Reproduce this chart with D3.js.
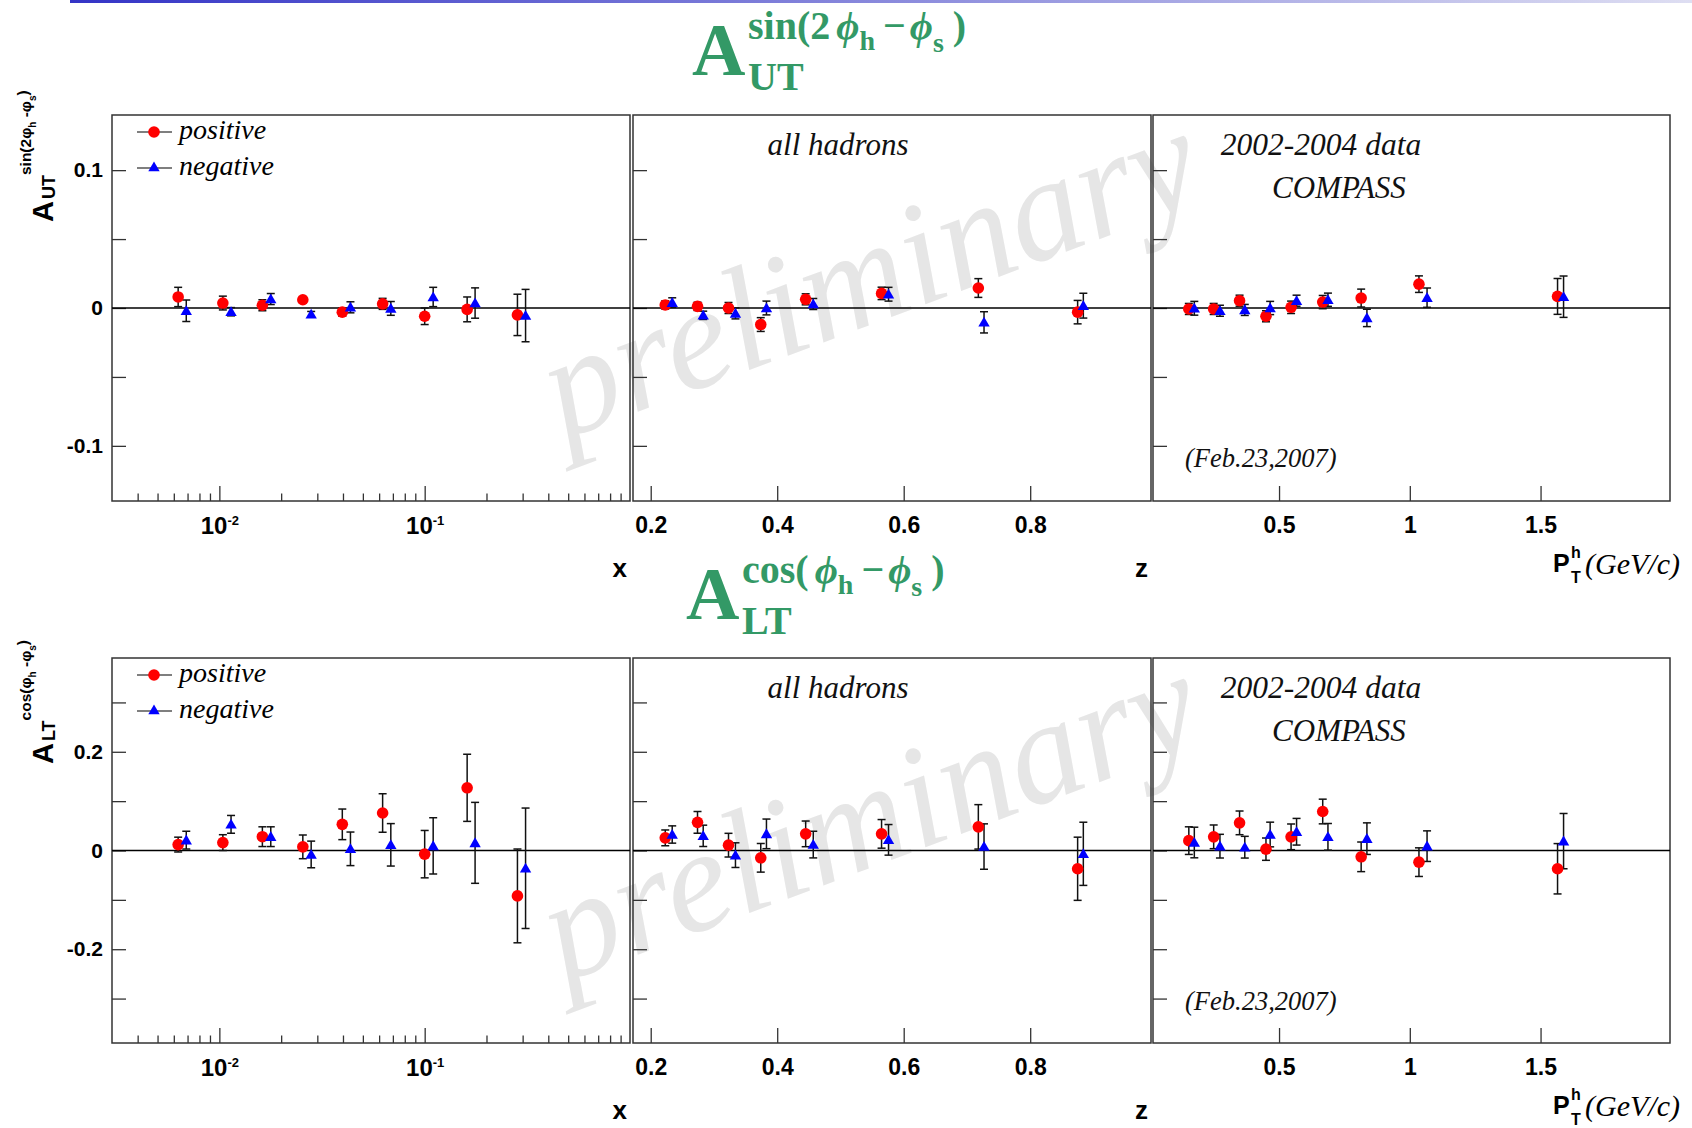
<!DOCTYPE html>
<html>
<head>
<meta charset="utf-8">
<script src="https://cdn.jsdelivr.net/npm/d3@7"></script>
<style>
body { margin: 0; background: #fff; }
svg { display: block; }
</style>
</head>
<body>
<svg id="chart"></svg>
<script>
// bin centres (negative hadrons drawn slightly shifted)
const xBinsPos = [0.0063, 0.0104, 0.0162, 0.0255, 0.0397, 0.0624, 0.100, 0.161, 0.283]
const xBinsNeg = [0.0069, 0.0114, 0.0178, 0.0280, 0.0435, 0.0684, 0.110, 0.176, 0.310]
const zBinsPos = [0.223, 0.274, 0.323, 0.374, 0.445, 0.565, 0.718, 0.875]
const zBinsNeg = [0.234, 0.283, 0.334, 0.383, 0.457, 0.576, 0.727, 0.884]
const ptBinsPos = [0.155, 0.250, 0.349, 0.450, 0.546, 0.667, 0.814, 1.035, 1.565]
const ptBinsNeg = [0.176, 0.274, 0.369, 0.466, 0.567, 0.687, 0.836, 1.066, 1.588]

// A_UT sin(2phi_h - phi_s)
const utXPos = [0.008, 0.0036, 0.002, 0.006, -0.003, 0.003, -0.006, -0.001, -0.005]
const utXPosErr = [0.007, 0.005, 0.004, 0.002, 0.003, 0.004, 0.006, 0.009, 0.015]
const utXNeg = [-0.002, -0.0027, 0.0065, -0.0045, 0.0005, -0.0003, 0.008, 0.0036, -0.0055]
const utXNegErr = [0.0078, 0.003, 0.004, 0.002, 0.004, 0.005, 0.007, 0.011, 0.019]
const utZPos = [0.0022, 0.0012, 0.0, -0.012, 0.0063, 0.0106, 0.0145, -0.003]
const utZPosErr = [0.003, 0.003, 0.004, 0.005, 0.004, 0.0045, 0.0068, 0.0085]
const utZNeg = [0.0039, -0.0053, -0.0039, 0.0, 0.0029, 0.010, -0.0104, 0.0017]
const utZNegErr = [0.0035, 0.003, 0.004, 0.005, 0.004, 0.005, 0.0077, 0.009]
const utPtPos = [-0.0007, -0.0007, 0.0053, -0.006, 0.0005, 0.0043, 0.0072, 0.0173, 0.0084]
const utPtPosErr = [0.004, 0.004, 0.004, 0.004, 0.0045, 0.0048, 0.0065, 0.006, 0.013]
const utPtNeg = [-0.0002, -0.002, -0.0014, 0.0, 0.0053, 0.006, -0.0072, 0.0075, 0.0082]
const utPtNegErr = [0.005, 0.004, 0.004, 0.0048, 0.004, 0.0048, 0.0063, 0.007, 0.015]

// A_LT cos(phi_h - phi_s)
const ltXPos = [0.012, 0.016, 0.028, 0.0074, 0.053, 0.076, -0.0074, 0.127, -0.092]
const ltXPosErr = [0.015, 0.016, 0.02, 0.024, 0.031, 0.039, 0.048, 0.068, 0.095]
const ltXNeg = [0.021, 0.053, 0.028, -0.008, 0.0034, 0.0115, 0.0094, 0.0155, -0.036]
const ltXNegErr = [0.018, 0.018, 0.02, 0.027, 0.034, 0.043, 0.057, 0.082, 0.122]
const ltZPos = [0.0256, 0.057, 0.0108, -0.0148, 0.0337, 0.0337, 0.0479, -0.037]
const ltZPosErr = [0.016, 0.022, 0.024, 0.029, 0.026, 0.029, 0.045, 0.064]
const ltZNeg = [0.0324, 0.0297, -0.0094, 0.0337, 0.012, 0.0216, 0.008, -0.0067]
const ltZNegErr = [0.0175, 0.0216, 0.025, 0.030, 0.027, 0.031, 0.046, 0.064]
const ltPtPos = [0.020, 0.0277, 0.056, 0.0027, 0.0277, 0.079, -0.0128, -0.0236, -0.037]
const ltPtPosErr = [0.028, 0.024, 0.024, 0.0226, 0.026, 0.025, 0.03, 0.029, 0.051]
const ltPtNeg = [0.0162, 0.0088, 0.0067, 0.0324, 0.038, 0.0277, 0.024, 0.0088, 0.019]
const ltPtNegErr = [0.031, 0.024, 0.022, 0.025, 0.027, 0.027, 0.032, 0.031, 0.056]

// ticks
const utTicks = [-0.1, -0.05, 0, 0.05, 0.1]
const utLabels = [-0.1, 0, 0.1]
const ltTicks = [-0.3, -0.2, -0.1, 0, 0.1, 0.2, 0.3]
const ltLabels = [-0.2, 0, 0.2]
const xMajorTicks = [0.01, 0.1]
const zTicks = [0.2, 0.4, 0.6, 0.8]
const ptTicks = [0.5, 1, 1.5]

const W = 1692, H = 1128
const sans = "'Liberation Sans', Arial, sans-serif"
const serif = "'Liberation Serif', 'Times New Roman', serif"
const green = '#339966'

const svg = d3.select('#chart').attr('width', W).attr('height', H)

// thin coloured bar at the very top
const grad = svg.append('defs').append('linearGradient').attr('id', 'topbar')
grad.append('stop').attr('offset', '0%').attr('stop-color', '#3434c6')
grad.append('stop').attr('offset', '100%').attr('stop-color', '#dedef2')
svg.append('rect').attr('x', 70).attr('y', 0).attr('width', W - 70).attr('height', 3)
   .attr('fill', 'url(#topbar)')

const colX = [[112, 630], [633, 1151], [1153, 1670]]
const rows = [
    {top: 115, bottom: 501, domain: [-0.14, 0.14], ticks: utTicks, labels: utLabels,
     vals: [[utXPos, utXPosErr, utXNeg, utXNegErr],
            [utZPos, utZPosErr, utZNeg, utZNegErr],
            [utPtPos, utPtPosErr, utPtNeg, utPtNegErr]]},
    {top: 658, bottom: 1043, domain: [-0.39, 0.39], ticks: ltTicks, labels: ltLabels,
     vals: [[ltXPos, ltXPosErr, ltXNeg, ltXNegErr],
            [ltZPos, ltZPosErr, ltZNeg, ltZNegErr],
            [ltPtPos, ltPtPosErr, ltPtNeg, ltPtNegErr]]}
]
const cols = [
    {make: () => d3.scaleLog().domain([0.003, 1]), pos: xBinsPos, neg: xBinsNeg},
    {make: () => d3.scaleLinear().domain([0.172, 0.991]), pos: zBinsPos, neg: zBinsNeg, ticks: zTicks, fmt: d3.format('.1f')},
    {make: () => d3.scaleLinear().domain([0.018, 1.995]), pos: ptBinsPos, neg: ptBinsNeg, ticks: ptTicks, fmt: v => String(v)}
]

// watermark behind everything
rows.forEach(row => {
    svg.append('text')
       .attr('transform', `translate(886,${row.top + 204}) rotate(-20.5)`)
       .attr('text-anchor', 'middle')
       .attr('font-family', serif).attr('font-style', 'italic')
       .attr('font-size', 147).attr('fill', '#e6e6e6')
       .text('preliminary')
})

const styleTicks = g => {
    g.select('.domain').remove()
    g.attr('font-size', null).attr('font-family', null)
    g.selectAll('.tick line').attr('stroke', '#333').attr('stroke-width', 1.3)
    g.selectAll('.tick text').attr('fill', '#000').attr('font-family', sans).attr('font-weight', 'bold')
}

rows.forEach((row, r) => {
    const y = d3.scaleLinear().domain(row.domain).range([row.bottom, row.top])
    cols.forEach((col, c) => {
        const [x0, x1] = colX[c]
        const x = col.make().range([x0, x1])
        const panel = svg.append('g')

        // y axis ticks (labels only on the first panel)
        const isLab = v => row.labels.some(l => Math.abs(l - v) < 1e-9)
        panel.append('g').attr('transform', `translate(${x0},0)`)
             .call(d3.axisLeft(y).tickValues(row.ticks).tickSizeInner(-14).tickSizeOuter(0).tickPadding(9)
                   .tickFormat(v => c === 0 && isLab(v) ? String(v) : ''))
             .call(styleTicks)
             .selectAll('.tick text').attr('font-size', 21)

        // x axis ticks
        if (c === 0) {
            const minor = x.ticks().filter(v => v > 0.0031 && v < 0.99 && !xMajorTicks.some(m => Math.abs(m - v) < 1e-9))
            panel.append('g').attr('transform', `translate(0,${row.bottom})`)
                 .call(d3.axisBottom(x).tickValues(minor).tickSizeInner(-7.5).tickSizeOuter(0).tickFormat(''))
                 .call(styleTicks)
            const gm = panel.append('g').attr('transform', `translate(0,${row.bottom})`)
                 .call(d3.axisBottom(x).tickValues(xMajorTicks).tickSizeInner(-15).tickSizeOuter(0).tickPadding(16).tickFormat(''))
                 .call(styleTicks)
            gm.selectAll('.tick text').attr('font-size', 24).each(function(d) {
                const t = d3.select(this).text(null)
                t.append('tspan').text('10')
                t.append('tspan').attr('font-size', 13).attr('dy', -9).text(Math.round(Math.log10(d)))
            })
        } else {
            panel.append('g').attr('transform', `translate(0,${row.bottom})`)
                 .call(d3.axisBottom(x).tickValues(col.ticks).tickSizeInner(-15).tickSizeOuter(0).tickPadding(16).tickFormat(col.fmt))
                 .call(styleTicks)
                 .selectAll('.tick text').attr('font-size', 23)
        }

        // frame and zero line
        panel.append('rect').attr('x', x0).attr('y', row.top)
             .attr('width', x1 - x0).attr('height', row.bottom - row.top)
             .attr('fill', 'none').attr('stroke', '#333').attr('stroke-width', 1.5)
        panel.append('line').attr('x1', x0).attr('x2', x1).attr('y1', y(0)).attr('y2', y(0))
             .attr('stroke', '#000').attr('stroke-width', 1.3)

        const [pv, pe, nv, ne] = row.vals[c]
        const series = [
            {bins: col.pos, v: pv, e: pe},
            {bins: col.neg, v: nv, e: ne}
        ]
        series.forEach(s => {
            const pts = s.bins.map((b, i) => ({x: b, v: s.v[i], e: s.e[i]}))
            const eg = panel.append('g').attr('stroke', '#111').attr('stroke-width', 1.5)
            eg.selectAll('.bar').data(pts).join('line')
              .attr('x1', d => x(d.x)).attr('x2', d => x(d.x))
              .attr('y1', d => y(d.v - d.e)).attr('y2', d => y(d.v + d.e))
            eg.selectAll('.capHi').data(pts).join('line')
              .attr('x1', d => x(d.x) - 4).attr('x2', d => x(d.x) + 4)
              .attr('y1', d => y(d.v + d.e)).attr('y2', d => y(d.v + d.e))
            eg.selectAll('.capLo').data(pts).join('line')
              .attr('x1', d => x(d.x) - 4).attr('x2', d => x(d.x) + 4)
              .attr('y1', d => y(d.v - d.e)).attr('y2', d => y(d.v - d.e))
            s.pts = pts
        })
        panel.append('g').selectAll('circle').data(series[0].pts).join('circle')
             .attr('cx', d => x(d.x)).attr('cy', d => y(d.v)).attr('r', 5.8).attr('fill', '#ff0000')
        panel.append('g').selectAll('path').data(series[1].pts).join('path')
             .attr('transform', d => `translate(${x(d.x)},${y(d.v) + 1})`)
             .attr('d', d3.symbol(d3.symbolTriangle, 56)).attr('fill', '#0000ff')
    })

    // legend
    const lg = svg.append('g').attr('font-family', serif).attr('font-style', 'italic').attr('font-size', 28)
    ;[['positive', 'circle', 17], ['negative', 'triangle', 53]].forEach(([name, kind, dy]) => {
        const ly = row.top + dy
        lg.append('line').attr('x1', 137).attr('x2', 172).attr('y1', ly).attr('y2', ly)
          .attr('stroke', '#000').attr('stroke-width', 1.2)
        if (kind === 'circle') lg.append('circle').attr('cx', 154).attr('cy', ly).attr('r', 5.8).attr('fill', '#ff0000')
        else lg.append('path').attr('transform', `translate(154,${ly})`)
               .attr('d', d3.symbol(d3.symbolTriangle, 56)).attr('fill', '#0000ff')
        lg.append('text').attr('x', 179).attr('y', ly + 7).text(name)
    })

    // panel captions
    const cap = svg.append('g').attr('font-family', serif).attr('font-style', 'italic').attr('fill', '#111')
    cap.append('text').attr('x', 838).attr('y', row.top + 40).attr('text-anchor', 'middle').attr('font-size', 31).text('all hadrons')
    cap.append('text').attr('x', 1321).attr('y', row.top + 40).attr('text-anchor', 'middle').attr('font-size', 31.5).text('2002-2004 data')
    cap.append('text').attr('x', 1339).attr('y', row.top + 83).attr('text-anchor', 'middle').attr('font-size', 31).text('COMPASS')
    cap.append('text').attr('x', 1185).attr('y', row.top + 352).attr('font-size', 26.5).text('(Feb.23,2007)')

    // axis titles
    const ax = svg.append('g').attr('font-family', sans).attr('font-weight', 'bold')
    ax.append('text').attr('x', 627).attr('y', row.bottom + 76).attr('text-anchor', 'end').attr('font-size', 26).text('x')
    ax.append('text').attr('x', 1148).attr('y', row.bottom + 76).attr('text-anchor', 'end').attr('font-size', 26).text('z')
    ax.append('text').attr('x', 1553).attr('y', row.bottom + 71).attr('font-size', 25).text('P')
    ax.append('text').attr('x', 1571).attr('y', row.bottom + 57).attr('font-size', 16).text('h')
    ax.append('text').attr('x', 1571).attr('y', row.bottom + 82).attr('font-size', 16).text('T')
    svg.append('text').attr('x', 1585).attr('y', row.bottom + 73)
       .attr('font-family', serif).attr('font-style', 'italic').attr('font-size', 30).text('(GeV/c)')
})

// y axis titles (rotated)
const yTitles = [
    {ty: 222, sub: 'UT', sup: 'sin(2φ'},
    {ty: 764, sub: 'LT', sup: 'cos(φ'}
]
yTitles.forEach(t => {
    const yt = svg.append('text').attr('transform', `translate(53,${t.ty}) rotate(-90)`)
                  .attr('font-family', sans).attr('font-weight', 'bold')
    yt.append('tspan').attr('font-size', 29).text('A')
    yt.append('tspan').attr('font-size', 18).attr('dx', 2).attr('dy', 2).text(t.sub)
    yt.append('tspan').attr('font-size', 15.5).attr('dy', -24).text(t.sup)
    yt.append('tspan').attr('font-size', 10).attr('dy', 5).text('h')
    yt.append('tspan').attr('font-size', 15.5).attr('dy', -5).text(' -φ')
    yt.append('tspan').attr('font-size', 10).attr('dy', 5).text('s')
    yt.append('tspan').attr('font-size', 15.5).attr('dy', -8).text(')')
})

// green titles
const titles = [
    {ax: 692, base: 75, sup: 'sin(2', sub: 'UT'},
    {ax: 686, base: 619, sup: 'cos(', sub: 'LT'}
]
titles.forEach(t => {
    const g = svg.append('g').attr('fill', green).attr('font-family', serif).attr('font-weight', 'bold')
    g.append('text').attr('x', t.ax).attr('y', t.base).attr('font-size', 74).text('A')
    g.append('text').attr('x', t.ax + 56).attr('y', t.base + 15).attr('font-size', 40).text(t.sub)
    const s = g.append('text').attr('x', t.ax + 56).attr('y', t.base - 36).attr('font-size', 40)
    s.append('tspan').text(t.sup)
    s.append('tspan').attr('dx', 6).attr('font-style', 'italic').text('ϕ')
    s.append('tspan').attr('font-size', 28).attr('dy', 11).text('h')
    s.append('tspan').attr('dx', 8).attr('dy', -11).text('−')
    s.append('tspan').attr('dx', 4).attr('font-style', 'italic').text('ϕ')
    s.append('tspan').attr('font-size', 28).attr('dy', 13).text('s')
    s.append('tspan').attr('dx', 9).attr('dy', -13).text(')')
})
</script>
</body>
</html>
